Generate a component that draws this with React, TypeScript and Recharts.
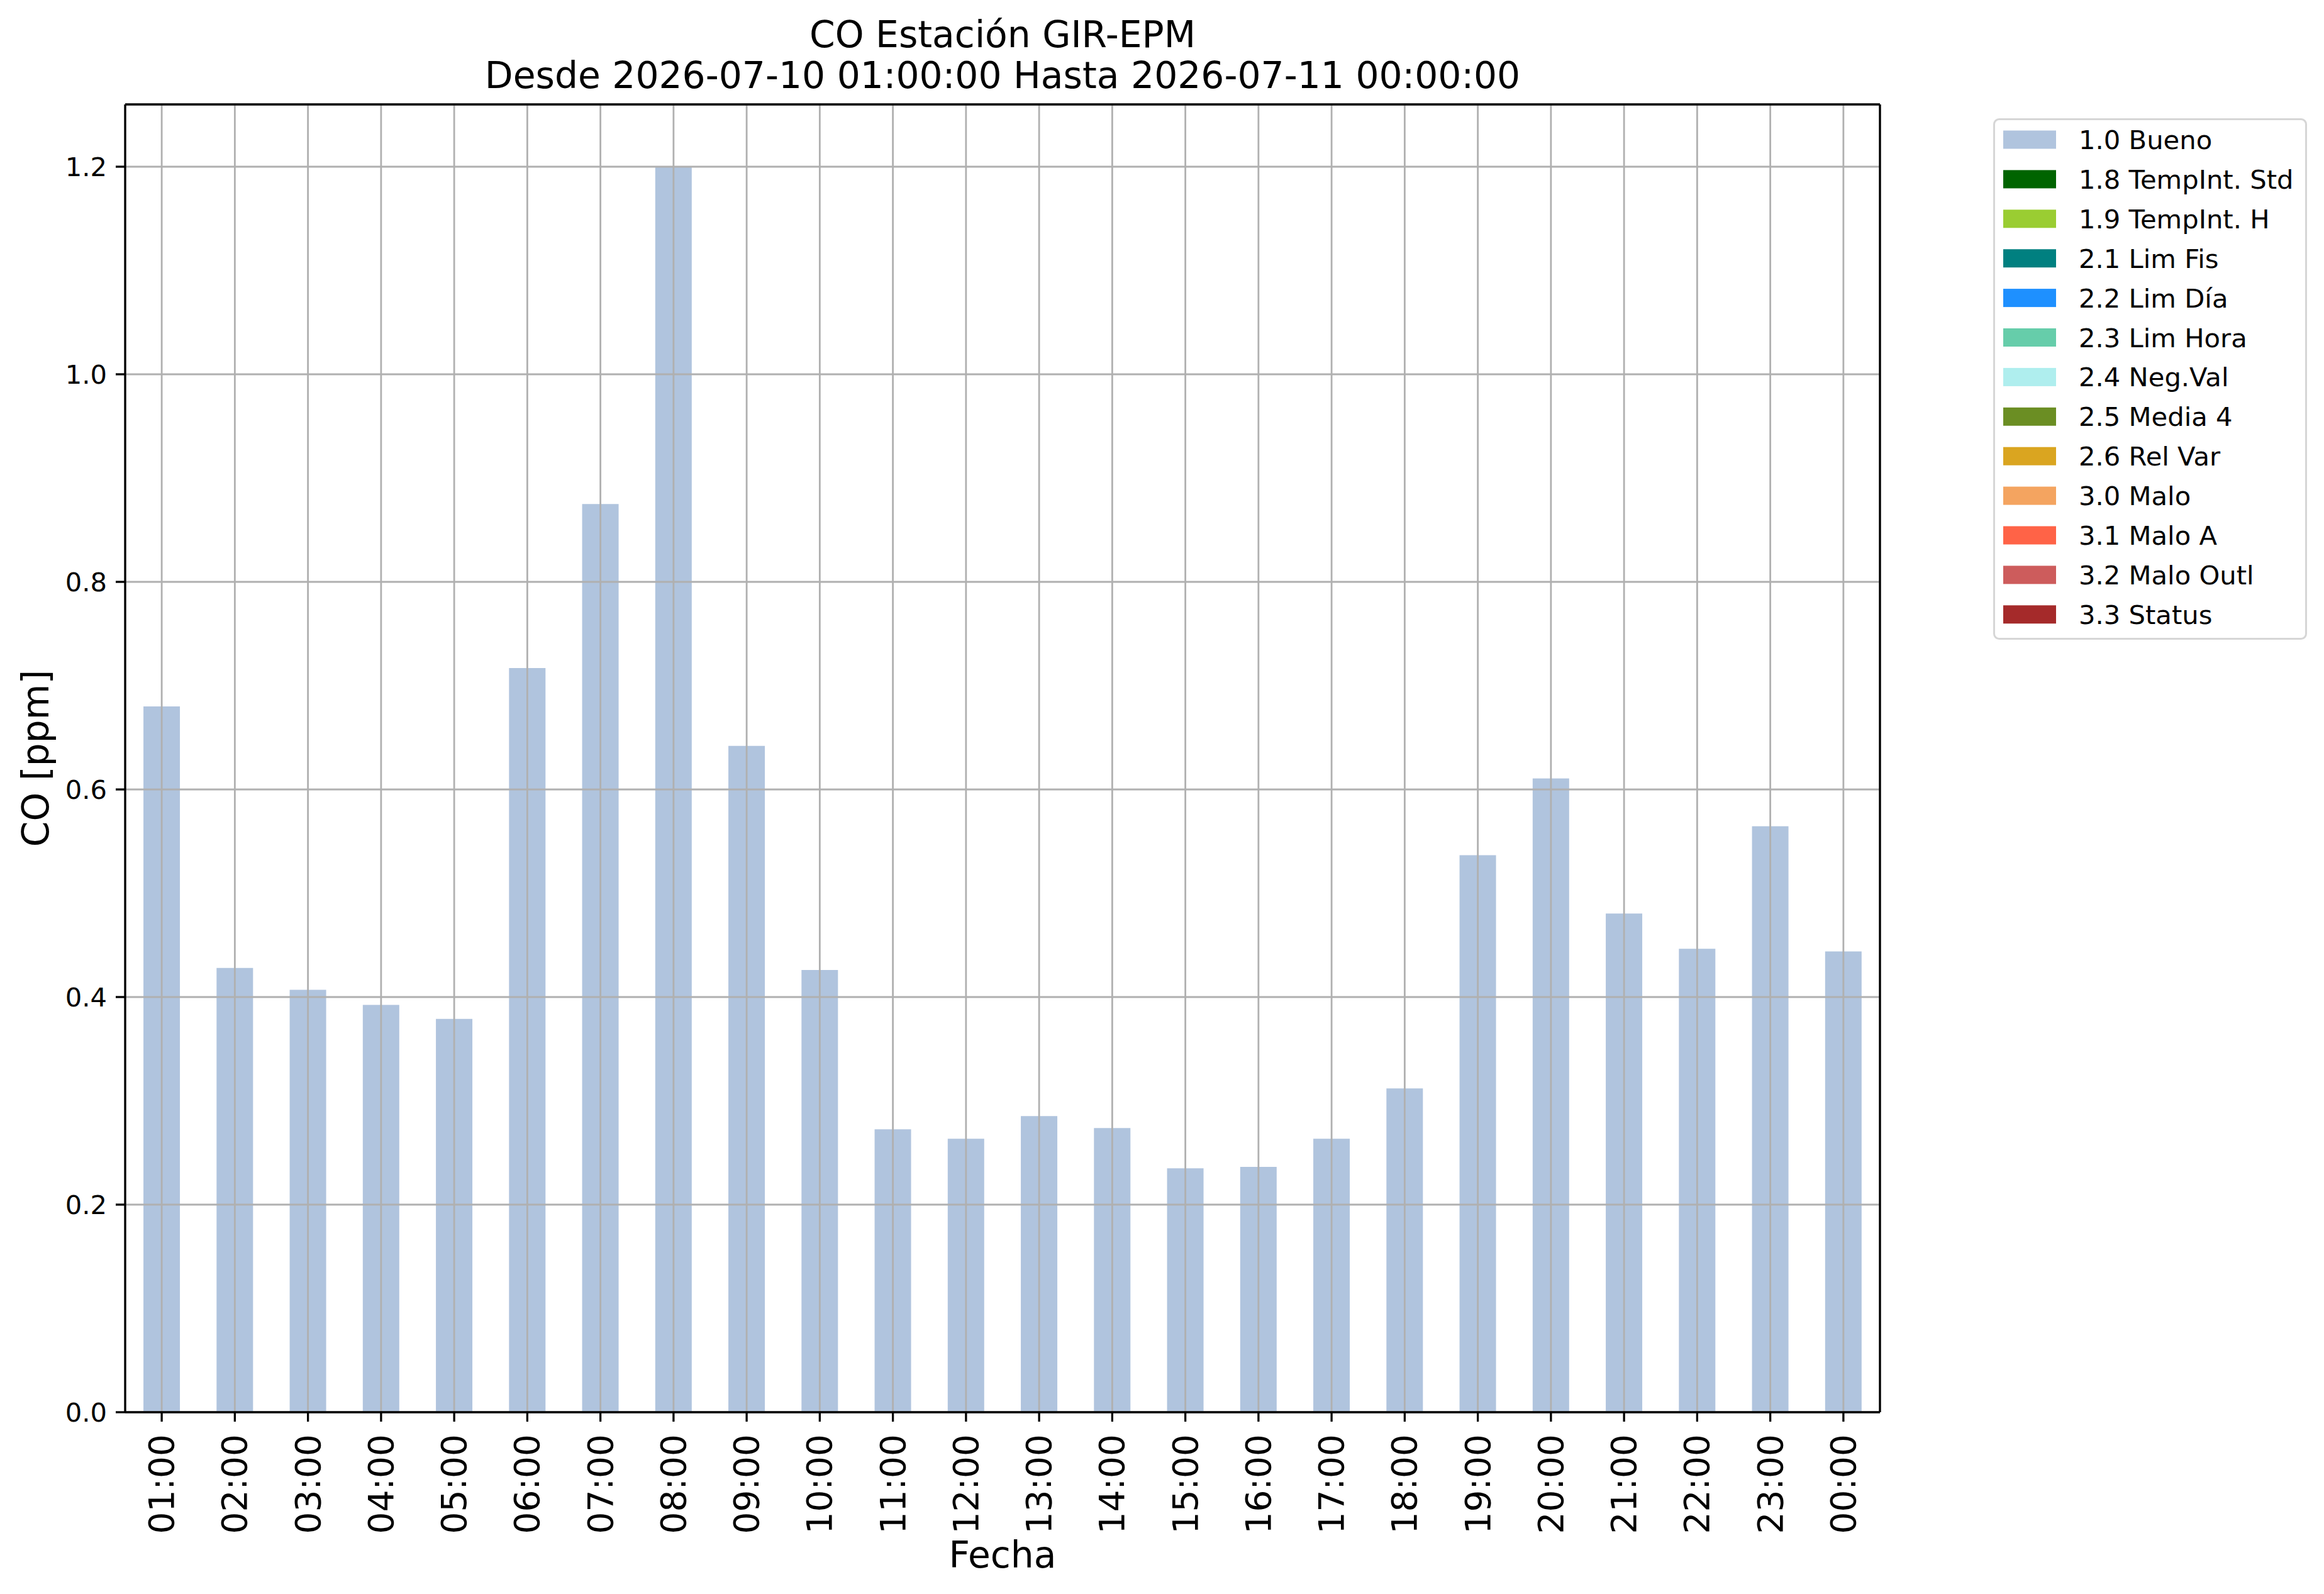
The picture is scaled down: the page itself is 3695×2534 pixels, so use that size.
import { Bar, BarChart, CartesianGrid, Label, XAxis, YAxis } from "recharts"

const FONT = "DejaVu Sans"

const hours = [
  "01:00", "02:00", "03:00", "04:00", "05:00", "06:00", "07:00", "08:00",
  "09:00", "10:00", "11:00", "12:00", "13:00", "14:00", "15:00", "16:00",
  "17:00", "18:00", "19:00", "20:00", "21:00", "22:00", "23:00", "00:00"
]

// CO [ppm], flag 1.0 Bueno
const buenoValues = [
  0.68, 0.428, 0.407, 0.3925, 0.379, 0.717, 0.875, 1.2,
  0.642, 0.426, 0.2726, 0.2635, 0.2853, 0.2738, 0.235, 0.2363,
  0.2635, 0.312, 0.5367, 0.6106, 0.4804, 0.4465, 0.5646, 0.444
]

const yTicks = [0, 0.2, 0.4, 0.6, 0.8, 1.0, 1.2]

const flagLabels = [
  "1.0 Bueno", "1.8 TempInt. Std", "1.9 TempInt. H", "2.1 Lim Fis", "2.2 Lim Día",
  "2.3 Lim Hora", "2.4 Neg.Val", "2.5 Media 4", "2.6 Rel Var", "3.0 Malo",
  "3.1 Malo A", "3.2 Malo Outl", "3.3 Status"
]

const flagColors = [
  "#b0c4de", "#006400", "#9acd32", "#008080", "#1e90ff",
  "#66cdaa", "#afeeee", "#6b8e23", "#daa520", "#f4a460",
  "#ff6347", "#cd5c5c", "#a52a2a"
]

const titleLines = [
  "CO Estación GIR-EPM",
  "Desde 2026-07-10 01:00:00 Hasta 2026-07-11 00:00:00"
]

const data = hours.map((hour, i) => ({ hour, bueno: buenoValues[i] }))

function HourTick({ x, y, payload }: any) {
  return (
    <text
      transform={`translate(${x},${y + 20}) rotate(-90)`}
      textAnchor="end"
      dominantBaseline="central"
      fontSize={55}
      fontFamily={FONT}
      fill="#000"
    >
      {payload.value}
    </text>
  )
}

function YTitle({ viewBox }: any) {
  const x = viewBox.x + viewBox.width - 122
  const y = viewBox.y + viewBox.height / 2
  return (
    <text x={x} y={y} transform={`rotate(-90, ${x}, ${y})`} textAnchor="middle" fontSize={58.3} fontFamily={FONT} fill="#000">
      CO [ppm]
    </text>
  )
}

function XTitle({ viewBox }: any) {
  return (
    <text x={viewBox.x + viewBox.width / 2} y={viewBox.y + 247} textAnchor="middle" fontSize={58.3} fontFamily={FONT} fill="#000">
      Fecha
    </text>
  )
}

const axisStroke = { stroke: "#000", strokeWidth: 3.3 }

export default function App() {
  return (
    <div style={{ position: "absolute", left: 0, top: 0, width: 3695, height: 2534, background: "#fff" }}>
      <BarChart
        width={3695}
        height={2534}
        data={data}
        margin={{ top: 165, right: 705, left: 79, bottom: 39 }}
        barCategoryGap="25%"
      >
        <XAxis
          dataKey="hour"
          type="category"
          height={250}
          interval={0}
          tickSize={15}
          tickMargin={0}
          tick={<HourTick />}
          stroke="#000"
          tickLine={axisStroke}
          axisLine={axisStroke}
        >
          <Label content={<XTitle />} />
        </XAxis>
        <XAxis
          xAxisId="top"
          orientation="top"
          dataKey="hour"
          height={1}
          tick={false}
          tickLine={false}
          stroke="#000"
          axisLine={axisStroke}
        />
        <YAxis
          type="number"
          domain={[0, 1.26]}
          ticks={yTicks}
          width={120}
          tickSize={15}
          tickMargin={14}
          tickFormatter={(v: number) => v.toFixed(1)}
          tick={{ fill: "#000", fontSize: 41.7, fontFamily: FONT }}
          stroke="#000"
          tickLine={axisStroke}
          axisLine={axisStroke}
        >
          <Label content={<YTitle />} />
        </YAxis>
        <YAxis
          yAxisId="right"
          orientation="right"
          type="number"
          domain={[0, 1.26]}
          width={1}
          tick={false}
          tickLine={false}
          stroke="#000"
          axisLine={axisStroke}
        />
        <Bar dataKey="bueno" fill={flagColors[0]} isAnimationActive={false} />
        <CartesianGrid stroke="#b0b0b0" strokeWidth={2.8} zIndex={350} />
      </BarChart>
      <svg width={3695} height={2534} style={{ position: "absolute", left: 0, top: 0, pointerEvents: "none" }}>
        {titleLines.map((line, i) => (
          <text key={line} x={1594} y={75 + i * 65} textAnchor="middle" fontSize={58.3} fontFamily={FONT} fill="#000">
            {line}
          </text>
        ))}
        <rect x={3170.5} y={189.5} width={496} height={826} rx={8} fill="#fff" stroke="#d6d6d6" strokeWidth={3} />
        {flagLabels.map((label, i) => {
          const cy = 222 + i * 62.9
          return (
            <g key={label}>
              <rect x={3185} y={cy - 14.5} width={84} height={29} fill={flagColors[i]} />
              <text x={3305} y={cy + 15} fontSize={41.7} fontFamily={FONT} fill="#000">
                {label}
              </text>
            </g>
          )
        })}
      </svg>
    </div>
  )
}
